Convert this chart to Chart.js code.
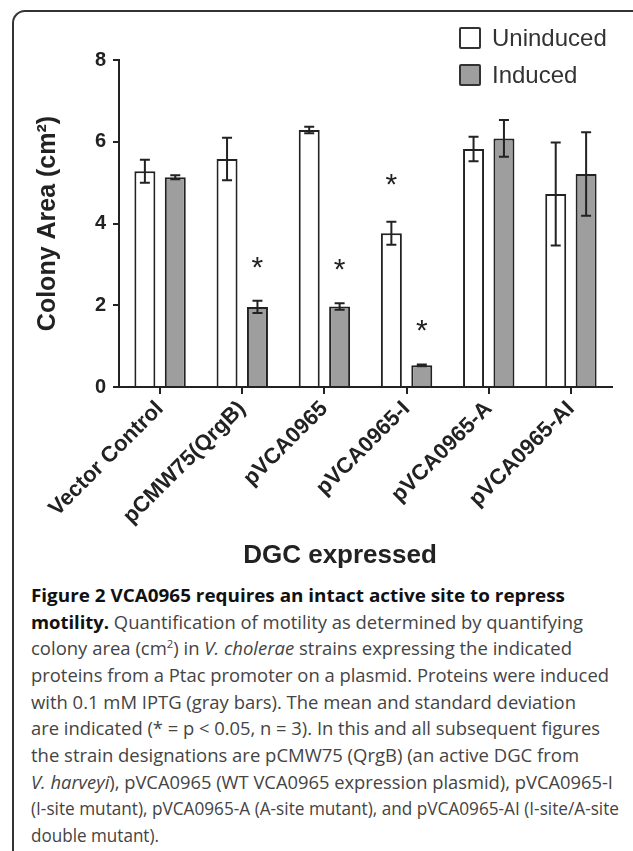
<!DOCTYPE html>
<html>
<head>
<meta charset="utf-8">
<script src="https://cdn.jsdelivr.net/npm/chart.js@4.4.1/dist/chart.umd.min.js"></script>
<style>
  html, body { margin: 0; padding: 0; background: #fff; }
  body { width: 633px; height: 851px; position: relative; overflow: hidden; }
  #frame {
    position: absolute; left: 12px; top: 10px; width: 700px; height: 900px;
    border: 2px solid #333; border-radius: 13px; box-sizing: border-box;
  }
  #chartBox { position: absolute; left: 0; top: 0; width: 633px; height: 540px; }
  .legend { position: absolute; left: 459px; font-family: "Liberation Sans", Arial, sans-serif;
    font-size: 24px; color: #333; line-height: 22px; }
  .legend .box { display: inline-block; width: 22px; height: 22px; box-sizing: border-box;
    border: 2.5px solid #333; border-radius: 2px; vertical-align: top; }
  .legend .lbl { position: absolute; left: 33px; top: 0; white-space: nowrap; }
  #xtitle { position: absolute; left: 240px; width: 200px; top: 541px; text-align: center;
    font-family: "Liberation Sans", Arial, sans-serif; font-weight: bold; font-size: 26px;
    line-height: 26px; color: #222; white-space: nowrap; }
  #caption { position: absolute; left: 31px; top: 582px; font-family: "Open Sans", sans-serif;
    font-size: 18px; line-height: 26.67px; color: #444; white-space: nowrap; }
  #caption b { color: #111; }
  #caption .ln span { display: inline-block; transform-origin: 0 50%; }
</style>
</head>
<body>
<div id="frame"></div>
<div id="chartBox"><canvas id="chart" width="633" height="540"></canvas></div>
<div class="legend" style="top:27px"><span class="box" style="background:#fff"></span><span class="lbl">Uninduced</span></div>
<div class="legend" style="top:64px"><span class="box" style="background:#9e9e9e"></span><span class="lbl">Induced</span></div>
<div id="xtitle">DGC expressed</div>
<div id="caption">
  <div class="ln"><span data-w="534"><b>Figure 2 VCA0965 requires an intact active site to repress</b></span></div>
  <div class="ln"><span data-w="552"><b>motility.</b> Quantification of motility as determined by quantifying</span></div>
  <div class="ln"><span data-w="541">colony area (cm<sup style="font-size:11px;line-height:0">2</sup>) in <i>V. cholerae</i> strains expressing the indicated</span></div>
  <div class="ln"><span data-w="578">proteins from a Ptac promoter on a plasmid. Proteins were induced</span></div>
  <div class="ln"><span data-w="545">with 0.1 mM IPTG (gray bars). The mean and standard deviation</span></div>
  <div class="ln"><span data-w="569">are indicated (* = p &lt; 0.05, n = 3). In this and all subsequent figures</span></div>
  <div class="ln"><span data-w="548">the strain designations are pCMW75 (QrgB) (an active DGC from</span></div>
  <div class="ln"><span data-w="582"><i>V. harveyi</i>), pVCA0965 (WT VCA0965 expression plasmid), pVCA0965-I</span></div>
  <div class="ln"><span data-w="588">(I-site mutant), pVCA0965-A (A-site mutant), and pVCA0965-AI (I-site/A-site</span></div>
  <div class="ln"><span data-w="128">double mutant).</span></div>
</div>
<script>
const categories = ['Vector Control', 'pCMW75(QrgB)', 'pVCA0965', 'pVCA0965-I', 'pVCA0965-A', 'pVCA0965-AI'];
const uninduced = [5.28, 5.58, 6.29, 3.76, 5.82, 4.72];
const uninducedSd = [0.28, 0.52, 0.08, 0.28, 0.30, 1.26];
const induced = [5.13, 1.96, 1.97, 0.53, 6.08, 5.21];
const inducedSd = [0.05, 0.15, 0.08, 0.02, 0.45, 1.02];
// where the significance stars sit (y value), null = no star
const sigUninduced = [null, null, null, 5.07, null, null];
const sigInduced = [null, 3.04, 2.99, 1.5, null, null];
const yMin = 0, yMax = 8, yStep = 2;

const ink = '#222';
const font = '"Liberation Sans", Arial, sans-serif';

// squeeze each caption line to the width it has in the printed figure
document.querySelectorAll('#caption .ln span').forEach(sp => {
  const w = sp.getBoundingClientRect().width;
  sp.style.transform = 'scaleX(' + (sp.dataset.w / w) + ')';
});

const errorBars = {
  id: 'errorBars',
  afterDatasetsDraw(chart) {
    const ctx = chart.ctx;
    const y = chart.scales.y;
    chart.data.datasets.forEach((ds, i) => {
      chart.getDatasetMeta(i).data.forEach((bar, j) => {
        const v = ds.data[j], sd = ds.sd[j];
        const top = y.getPixelForValue(v + sd);
        const bot = y.getPixelForValue(v - sd);
        ctx.save();
        ctx.strokeStyle = ink;
        ctx.lineWidth = 2;
        ctx.beginPath();
        ctx.moveTo(bar.x, top); ctx.lineTo(bar.x, bot);
        ctx.moveTo(bar.x - 5, top); ctx.lineTo(bar.x + 5, top);
        ctx.moveTo(bar.x - 5, bot); ctx.lineTo(bar.x + 5, bot);
        ctx.stroke();
        const s = ds.sig[j];
        if (s != null) {
          ctx.font = '30px ' + font;
          ctx.fillStyle = ink;
          ctx.textAlign = 'center';
          ctx.textBaseline = 'alphabetic';
          const m = ctx.measureText('*');
          const py = y.getPixelForValue(s);
          ctx.fillText('*', bar.x, py + (m.actualBoundingBoxAscent - m.actualBoundingBoxDescent) / 2);
        }
        ctx.restore();
      });
    });
  }
};

new Chart(document.getElementById('chart').getContext('2d'), {
  type: 'bar',
  data: {
    labels: categories,
    datasets: [
      { label: 'Uninduced', data: uninduced, sd: uninducedSd, sig: sigUninduced,
        backgroundColor: '#ffffff', borderColor: ink, borderWidth: 2 },
      { label: 'Induced', data: induced, sd: inducedSd, sig: sigInduced,
        backgroundColor: '#9e9e9e', borderColor: ink, borderWidth: 2 }
    ]
  },
  options: {
    responsive: false,
    animation: false,
    devicePixelRatio: 1,
    categoryPercentage: 0.74,
    barPercentage: 0.69,
    layout: { padding: { left: 0, top: 60, right: 21, bottom: 0 } },
    plugins: { legend: { display: false }, tooltip: { enabled: false } },
    scales: {
      x: {
        grid: { offset: false, drawOnChartArea: false, tickLength: 7, color: ink, lineWidth: 2 },
        border: { color: ink, width: 2 },
        ticks: { maxRotation: 45, minRotation: 45, color: ink, padding: 2,
          font: { family: font, size: 22, weight: 'bold' } },
        afterFit: s => { s.height = 153; }
      },
      y: {
        min: yMin, max: yMax,
        grid: { drawOnChartArea: false, tickLength: 6, color: ink, lineWidth: 2 },
        border: { color: ink, width: 2 },
        ticks: { stepSize: yStep, color: ink, padding: 7,
          font: { family: font, size: 20, weight: 'bold' } },
        title: { display: true, text: 'Colony Area (cm²)', color: ink,
          font: { family: font, size: 25, weight: 'bold' }, padding: { top: 33, bottom: 0 } },
        afterFit: s => { s.width = 119; }
      }
    }
  },
  plugins: [errorBars]
});
</script>
</body>
</html>
